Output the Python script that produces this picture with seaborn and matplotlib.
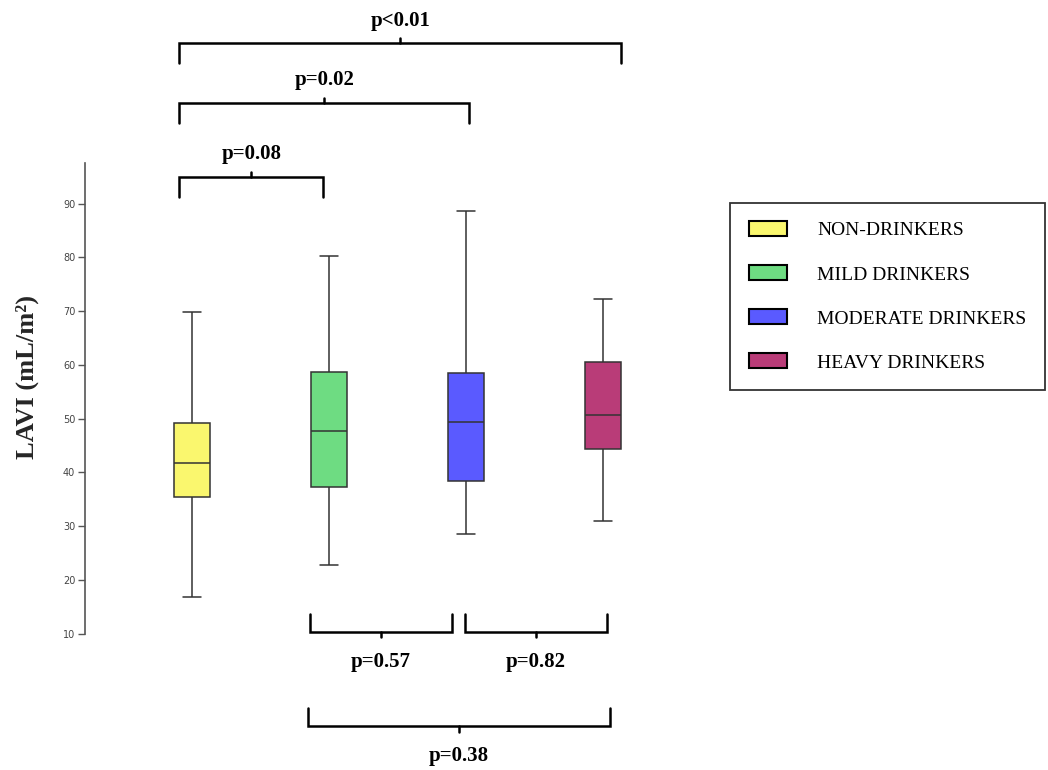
import pandas as pd
import numpy as np
import matplotlib.pyplot as plt
import seaborn as sns

sns.set_style('white')
plt.rcParams['font.family'] = ['Liberation Serif', 'DejaVu Serif']
plt.rcParams['text.color'] = 'black'

# box stats: low whisker, Q1, median, Q3, high whisker
groups = ['NON-DRINKERS', 'MILD DRINKERS', 'MODERATE DRINKERS', 'HEAVY DRINKERS']
lavi_low = [16.8, 22.7, 28.6, 31.0]
lavi_q1 = [35.5, 37.2, 38.4, 44.4]
lavi_med = [41.8, 47.7, 49.3, 50.7]
lavi_q3 = [49.2, 58.7, 58.5, 60.5]
lavi_high = [69.8, 80.2, 88.6, 72.3]
colors = ['#FAF76E', '#6EDC82', '#5A5AFF', '#B93C78']

# pairwise p-values
top_labels = ['p=0.08', 'p=0.02', 'p<0.01']
bottom_labels = ['p=0.57', 'p=0.82', 'p=0.38']

# five points per group -> quartiles land exactly on the read values
rows = []
for i, g in enumerate(groups):
    for v in [lavi_low[i], lavi_q1[i], lavi_med[i], lavi_q3[i], lavi_high[i]]:
        rows.append({'group': g, 'LAVI': v})
df = pd.DataFrame(rows)

fig = plt.figure(figsize=(10.48, 7.7), dpi=100)
ax = fig.add_axes([0.081, 0.177, 0.573, 0.611])

sns.boxplot(data=df, x='group', y='LAVI', hue='group', palette=colors,
            width=0.26, whis=(0, 100), linecolor='#333333', linewidth=1.1,
            saturation=1, legend=True, ax=ax)

ax.set_ylim(10, 97.5)
ax.set_xlim(-0.78, 3.6)
ax.set_yticks(range(10, 91, 10))
ax.tick_params(axis='y', labelsize=7, labelcolor='#444444', length=5,
               width=1, color='#555555', pad=2, left=True)
for lab in ax.get_yticklabels():
    lab.set_family('DejaVu Sans')
ax.set_xticks([])
ax.set_xlabel('')
ax.set_ylabel('LAVI (mL/m²)', fontsize=19, fontweight='bold')
ax.yaxis.set_label_coords(-0.077, 0.545)
for s in ['top', 'right', 'bottom']:
    ax.spines[s].set_visible(False)
ax.spines['left'].set_color('#555555')
ax.spines['left'].set_linewidth(1.2)

sns.move_legend(ax, 'center left', bbox_to_anchor=(0.697, 0.615),
                bbox_transform=fig.transFigure, title=None, fontsize=14,
                frameon=True, fancybox=False, edgecolor='black',
                labelspacing=1.33, handlelength=1.95, handleheight=0.8,
                handletextpad=1.55, borderpad=0.95, borderaxespad=0)
leg = ax.get_legend()
leg.get_frame().set_linewidth(1.3)
for h in leg.legend_handles:
    h.set_edgecolor('black')
    h.set_linewidth(1.5)
for t in leg.get_texts():
    t.set_color('black')


def bracket(xa, xb, y, h, label, dy, tick):
    ax.plot([xa, xa, xb, xb], [y - h, y, y, y - h], color='black', lw=1.8,
            clip_on=False, solid_joinstyle='miter')
    mid = (xa + xb) / 2
    ax.plot([mid, mid], [y, y + h * tick], color='black', lw=1.8, clip_on=False)
    ax.text(mid, y + dy, label, ha='center', va='center', fontsize=15,
            fontweight='bold', clip_on=False)


# bracket ends in category units, heights in LAVI units
top_left = [-0.09, -0.09, -0.09]
top_right = [0.96, 2.02, 3.13]
top_y = [95.0, 108.7, 119.8]
for xa, xb, y, lab in zip(top_left, top_right, top_y, top_labels):
    bracket(xa, xb, y, 3.7, lab, 4.2, 0.25)

bottom_left = [0.86, 1.99, 0.85]
bottom_right = [1.9, 3.03, 3.05]
bottom_y = [10.4, 10.4, -7.2]
for xa, xb, y, lab in zip(bottom_left, bottom_right, bottom_y, bottom_labels):
    bracket(xa, xb, y, -3.3, lab, -5.6, 0.3)

fig.savefig('out.png', dpi=100)
